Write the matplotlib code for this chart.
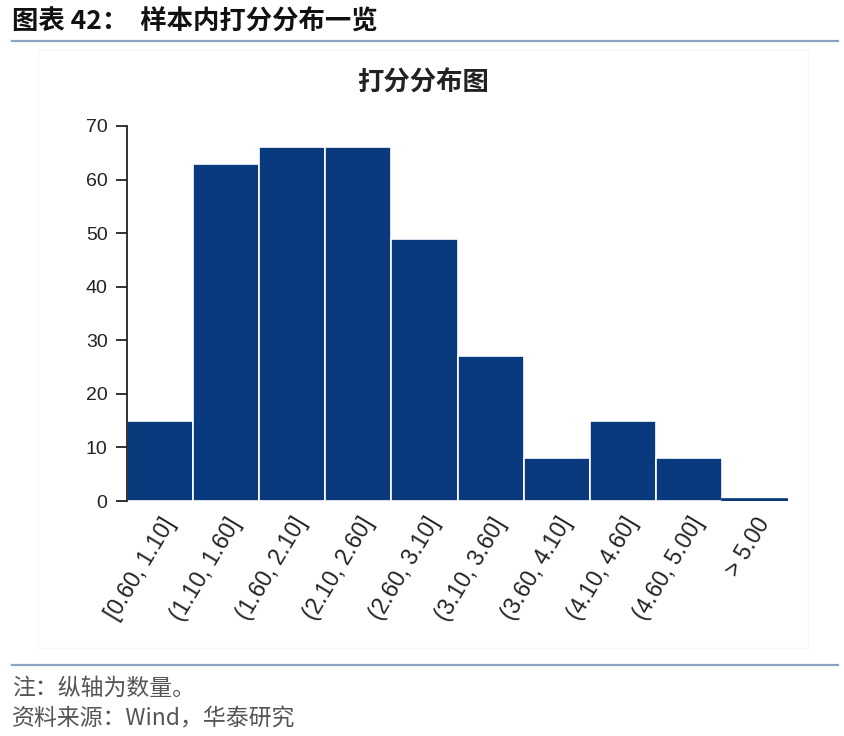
import matplotlib.pyplot as plt
from matplotlib.lines import Line2D
from matplotlib.patches import Rectangle

plt.rcParams['font.family'] = ['Liberation Sans', 'Noto Sans CJK SC', 'DejaVu Sans']

bins = ['[0.60, 1.10]', '(1.10, 1.60]', '(1.60, 2.10]', '(2.10, 2.60]', '(2.60, 3.10]',
        '(3.10, 3.60]', '(3.60, 4.10]', '(4.10, 4.60]', '(4.60, 5.00]', '> 5.00']
counts = [15, 63, 66, 66, 49, 27, 8, 15, 8, 0.4]
yticks = [0, 10, 20, 30, 40, 50, 60, 70]

bar_color = '#0a3a7e'
line_color = '#8ba3c0'
cjk = ['Noto Sans CJK SC', 'DejaVu Sans']

fig = plt.figure(figsize=(8.44, 7.36), dpi=100)

# header and footer
fig.text(12 / 844, 1 - 22 / 736, '图表 42：  样本内打分分布一览', fontsize=19, fontweight='bold',
         family=cjk, va='center', ha='left', color='#111111')
fig.add_artist(Line2D([12 / 844, 838 / 844], [1 - 41 / 736] * 2, color=line_color, lw=1.6))
fig.add_artist(Line2D([12 / 844, 838 / 844], [1 - 665 / 736] * 2, color=line_color, lw=1.6))
fig.text(12 / 844, 1 - 688 / 736, '注：纵轴为数量。', fontsize=16.5, family=cjk,
         va='center', ha='left', color='#555555')
fig.text(12 / 844, 1 - 719 / 736, '资料来源：Wind，华泰研究', fontsize=16.5, family=cjk,
         va='center', ha='left', color='#555555')

# faint chart frame
fig.add_artist(Rectangle((38 / 844, 1 - 648 / 736), (808 - 38) / 844, (648 - 50) / 736,
                         transform=fig.transFigure, fill=False, edgecolor='#f6f6f6', lw=1))

ax = fig.add_axes([127 / 844, 1 - 501 / 736, (788 - 127) / 844, (501 - 126) / 736])
x = range(len(bins))
edges = ['white'] * (len(bins) - 1) + [bar_color]
ax.bar(x, counts, width=1.0, color=bar_color, edgecolor=edges, linewidth=1.2)
ax.set_xlim(-0.5, len(bins) - 0.5)
ax.set_ylim(0, 70)
ax.set_yticks(yticks)
ax.set_xticks(list(x))
ax.set_xticklabels(bins, rotation=59, ha='right', va='top', rotation_mode='anchor', fontsize=16.5,
                   color='#222222')
ax.tick_params(axis='x', length=0, pad=9)
ax.tick_params(axis='y', length=8, width=1.3, labelsize=14, pad=6, colors='#222222')
for s in ['top', 'right', 'bottom']:
    ax.spines[s].set_visible(False)
ax.spines['left'].set_linewidth(1.3)
ax.spines['left'].set_color('#222222')

fig.text(423 / 844, 1 - 83 / 736, '打分分布图', fontsize=19, fontweight='bold', family=cjk,
         ha='center', va='center', color='#222222')

fig.savefig('out.png', dpi=100)
